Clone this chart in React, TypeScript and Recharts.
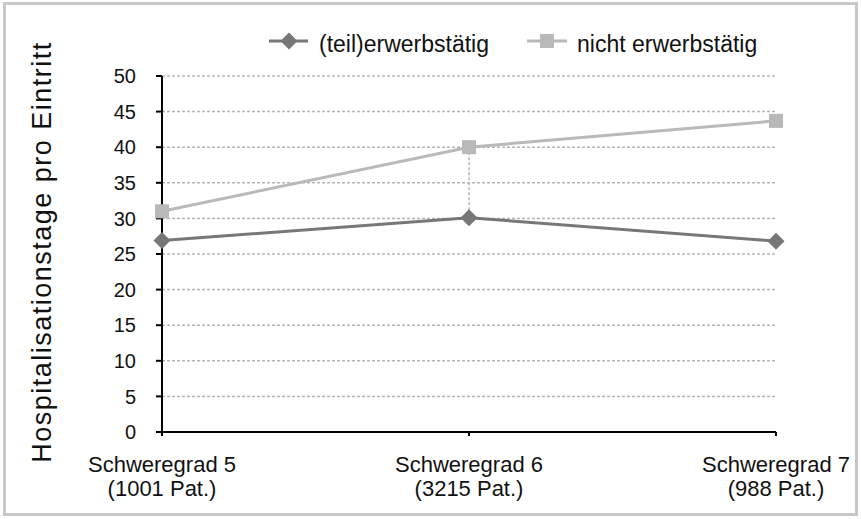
import React from 'react';
import { LineChart, Line, XAxis, YAxis, CartesianGrid, ReferenceLine } from 'recharts';

const categories = ['Schweregrad 5', 'Schweregrad 6', 'Schweregrad 7'];
const patients = ['(1001 Pat.)', '(3215 Pat.)', '(988 Pat.)'];
const erwerbstaetig = [26.9, 30.1, 26.8];
const nichtErwerbstaetig = [31.0, 40.0, 43.7];
const yTicks = [0, 5, 10, 15, 20, 25, 30, 35, 40, 45, 50];
const seriesNames = ['(teil)erwerbstätig', 'nicht erwerbstätig'];

const DARK = '#777777';
const LIGHT = '#b9b9b9';
const FONT = '"Liberation Sans", Arial, sans-serif';

const data = categories.map((c, i) => ({
  name: c,
  teil: erwerbstaetig[i],
  nicht: nichtErwerbstaetig[i],
}));

const Diamond = (props: any) => {
  const { cx, cy } = props;
  if (cx == null || cy == null) return null;
  const r = 8.5;
  return <path d={`M${cx},${cy - r}L${cx + r},${cy}L${cx},${cy + r}L${cx - r},${cy}Z`} fill={DARK} />;
};

const Square = (props: any) => {
  const { cx, cy } = props;
  if (cx == null || cy == null) return null;
  const s = 7;
  return <rect x={cx - s} y={cy - s} width={s * 2} height={s * 2} fill={LIGHT} />;
};

const CatTick = (props: any) => {
  const { x, y, payload, index } = props;
  return (
    <text x={x} y={y + 34} textAnchor="middle" fontSize={22} fill="#111" fontFamily={FONT}>
      <tspan x={x} dy={0}>{payload.value}</tspan>
      <tspan x={x} dy={24}>{patients[index]}</tspan>
    </text>
  );
};

const YLabel = (props: any) => {
  const { viewBox } = props;
  const cx = viewBox.x + 42;
  const cy = viewBox.y + viewBox.height / 2 - 2;
  return (
    <text
      x={cx}
      y={cy}
      transform={`rotate(-90 ${cx} ${cy})`}
      textAnchor="middle"
      dominantBaseline="central"
      fontSize={27}
      letterSpacing={1.5}
      fill="#111"
      fontFamily={FONT}
    >
      Hospitalisationstage pro Eintritt
    </text>
  );
};

const LegendBox = () => (
  <svg width={861} height={80} style={{ position: 'absolute', left: 0, top: 0 }}>
    <g fontFamily={FONT} fontSize={23} fill="#111">
      <line x1={269} x2={308} y1={41} y2={41} stroke={DARK} strokeWidth={3} />
      <path d="M289,32.5L297.5,41L289,49.5L280.5,41Z" fill={DARK} />
      <text x={319} y={52}>{seriesNames[0]}</text>
      <line x1={527} x2={567} y1={41} y2={41} stroke={LIGHT} strokeWidth={3} />
      <rect x={540} y={34} width={14} height={14} fill={LIGHT} />
      <text x={577} y={52}>{seriesNames[1]}</text>
    </g>
  </svg>
);

export default function App() {
  return (
    <div style={{ position: 'absolute', left: 0, top: 0, width: 861, height: 519, background: '#fff' }}>
      <div
        style={{
          position: 'absolute',
          left: 3,
          top: 2,
          width: 849,
          height: 508,
          border: '3px solid #c8c8c8',
        }}
      />
      <LineChart
        width={861}
        height={519}
        data={data}
        margin={{ top: 76, right: 85, left: 0, bottom: 0 }}
        style={{ position: 'absolute', left: 0, top: 0 }}
      >
        <CartesianGrid
          vertical={false}
          stroke="#b5b5b5"
          strokeDasharray="3 2"
          strokeWidth={1.5}
        />
        <XAxis
          dataKey="name"
          height={87}
          axisLine={{ stroke: '#000', strokeWidth: 2 }}
          tickLine={{ stroke: '#000', strokeWidth: 2 }}
          tickSize={4}
          tick={<CatTick />}
          interval={0}
        />
        <YAxis
          width={162}
          domain={[0, 50]}
          ticks={yTicks}
          interval={0}
          axisLine={{ stroke: '#000', strokeWidth: 2 }}
          tickLine={{ stroke: '#000', strokeWidth: 2 }}
          tickSize={6}
          tickMargin={20}
          tick={{ fontSize: 20, fill: '#111', fontFamily: FONT }}
          label={<YLabel />}
        />
        <ReferenceLine
          segment={[
            { x: categories[1], y: nichtErwerbstaetig[1] },
            { x: categories[1], y: erwerbstaetig[1] },
          ]}
          stroke="#b5b5b5"
          strokeDasharray="3 2"
          strokeWidth={1.5}
        />
        <Line
          dataKey="teil"
          name={seriesNames[0]}
          stroke={DARK}
          strokeWidth={3}
          dot={<Diamond />}
          activeDot={false}
          isAnimationActive={false}
        />
        <Line
          dataKey="nicht"
          name={seriesNames[1]}
          stroke={LIGHT}
          strokeWidth={3}
          dot={<Square />}
          activeDot={false}
          isAnimationActive={false}
        />
      </LineChart>
      <LegendBox />
    </div>
  );
}
